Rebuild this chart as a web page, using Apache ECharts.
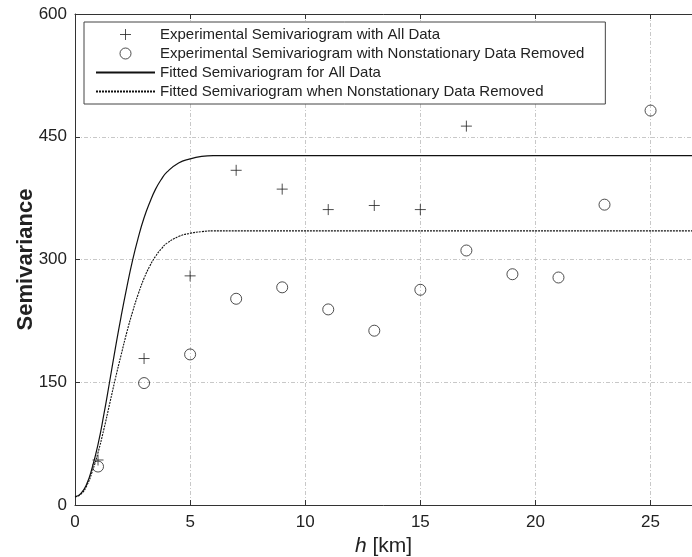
<!DOCTYPE html>
<html>
<head>
<meta charset="utf-8">
<script src="https://cdn.jsdelivr.net/npm/echarts@6/dist/echarts.min.js"></script>
<style>
  html, body { margin: 0; padding: 0; background: #fff; }
  #main { width: 692px; height: 557px; }
</style>
</head>
<body>
<div id="main"></div>
<script>
// experimental semivariogram, lag distance in km
var lagAll = [1, 3, 5, 7, 9, 11, 13, 15, 17];
var semiAll = [55, 179, 280, 409, 386, 361, 366, 361, 463];

var lagRemoved = [1, 3, 5, 7, 9, 11, 13, 15, 17, 19, 21, 23, 25];
var semiRemoved = [47, 149, 184, 252, 266, 239, 213, 263, 311, 282, 278, 367, 482];

// fitted curves
var fitH = [0, 0.25, 0.5, 0.75, 1, 1.25, 1.5, 1.75, 2, 2.25, 2.5, 2.75, 3, 3.25, 3.5, 3.75, 4, 4.5, 5, 5.5, 6, 7, 26.8];
var fitAll = [10, 14, 25, 46, 74, 110, 150, 191, 230, 266, 299, 327, 351, 370, 386, 398, 407, 418, 423, 426, 427, 427, 427];
var fitRemoved = [10, 13, 23, 41, 64, 92, 123, 154, 183, 211, 236, 258, 277, 292, 304, 313, 320, 328, 332, 334, 335, 335, 335];

var xTicks = [0, 5, 10, 15, 20, 25];
var yTicks = [0, 150, 300, 450, 600];

var names = [
  'Experimental Semivariogram with All Data',
  'Experimental Semivariogram with Nonstationary Data Removed',
  'Fitted Semivariogram for All Data',
  'Fitted Semivariogram when Nonstationary Data Removed'
];

function pairs(xs, ys) {
  var out = [];
  for (var i = 0; i < xs.length; i++) out.push([xs[i], ys[i]]);
  return out;
}

var plus = 'path://M0,5L10,5M5,0L5,10';
var chart = echarts.init(document.getElementById('main'), null, { renderer: 'canvas' });

var option = {
  animation: false,
  textStyle: { fontFamily: 'Liberation Sans, Arial, sans-serif' },
  grid: { left: 75, top: 14, right: 0, bottom: 52, containLabel: false, outerBoundsMode: 'none' },
  legend: {
    orient: 'vertical',
    left: 84,
    top: 22,
    padding: [5, 21, 5, 11],
    itemGap: 4,
    itemWidth: 59,
    itemHeight: 11,
    borderColor: '#444',
    borderWidth: 1,
    backgroundColor: '#fff',
    textStyle: { fontSize: 15, color: '#222', lineHeight: 15 },
    data: [
      { name: names[0], icon: plus, itemStyle: { color: 'transparent', borderColor: '#222', borderWidth: 1 } },
      { name: names[1], icon: 'circle', itemStyle: { color: 'transparent', borderColor: '#222', borderWidth: 1 } },
      { name: names[2], itemStyle: { opacity: 0 } },
      { name: names[3], itemStyle: { opacity: 0 } }
    ]
  },
  xAxis: [{
    type: 'value',
    min: 0,
    max: 26.8,
    interval: 5,
    name: '{i|h} [km]',
    nameLocation: 'middle',
    nameGap: 31,
    nameTextStyle: {
      fontSize: 21, color: '#222',
      rich: { i: { fontSize: 21, fontStyle: 'italic', color: '#222' } }
    },
    axisLine: { lineStyle: { color: '#333' } },
    axisTick: { inside: true, length: 5, lineStyle: { color: '#333' } },
    axisLabel: {
      fontSize: 17, color: '#222', margin: 9,
      formatter: function (v) { return xTicks.indexOf(v) >= 0 ? String(v) : ''; }
    },
    splitLine: { show: true, lineStyle: { color: '#c8c8c8', type: [4, 2, 1, 2] } }
  }, {
    type: 'value',
    position: 'top',
    min: 0,
    max: 26.8,
    interval: 5,
    axisLine: { show: true, onZero: false, lineStyle: { color: '#333' } },
    axisTick: { show: true, inside: true, length: 5, lineStyle: { color: '#333' } },
    axisLabel: { show: false },
    splitLine: { show: false }
  }],
  yAxis: {
    type: 'value',
    min: 0,
    max: 600,
    interval: 150,
    name: 'Semivariance',
    nameLocation: 'middle',
    nameGap: 38,
    nameMoveOverlap: false,
    nameTextStyle: { fontSize: 22, fontWeight: 'bold', color: '#222' },
    axisLine: { show: true, lineStyle: { color: '#333' } },
    axisTick: { show: true, inside: true, length: 5, lineStyle: { color: '#333' } },
    axisLabel: {
      fontSize: 17, color: '#222', margin: 8,
      formatter: function (v) { return yTicks.indexOf(v) >= 0 ? String(v) : ''; }
    },
    splitLine: { show: true, lineStyle: { color: '#c8c8c8', type: [4, 2, 1, 2] } }
  },
  series: [
    {
      name: names[0],
      type: 'scatter',
      symbol: plus,
      symbolSize: 11,
      itemStyle: { color: 'transparent', borderColor: '#222', borderWidth: 1 },
      data: pairs(lagAll, semiAll),
      z: 5
    },
    {
      name: names[1],
      type: 'scatter',
      symbol: 'circle',
      symbolSize: 11,
      itemStyle: { color: 'transparent', borderColor: '#222', borderWidth: 1 },
      data: pairs(lagRemoved, semiRemoved),
      z: 5
    },
    {
      name: names[2],
      type: 'line',
      symbol: 'none',
      smooth: true,
      color: '#111',
      lineStyle: { color: '#111', width: 1.2 },
      data: pairs(fitH, fitAll)
    },
    {
      name: names[3],
      type: 'line',
      symbol: 'none',
      smooth: true,
      color: '#111',
      lineStyle: { color: '#111', width: 1.1, type: [2, 1] },
      data: pairs(fitH, fitRemoved)
    }
  ]
};

chart.setOption(option);
</script>
</body>
</html>
